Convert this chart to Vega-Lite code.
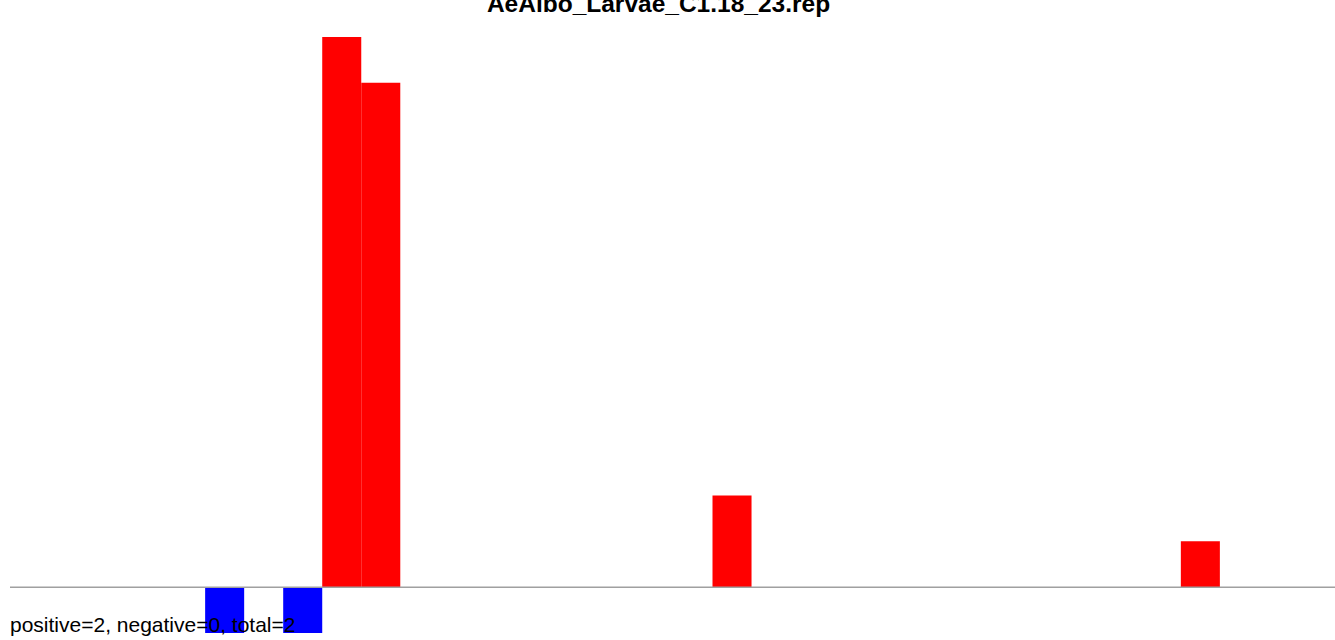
{
  "$schema": "https://vega.github.io/schema/vega-lite/v6.json",
  "width": 1325,
  "height": 596,
  "autosize": {"type": "none"},
  "padding": {"left": 10, "top": 37, "right": 0, "bottom": 7},
  "background": "white",
  "config": {"view": {"stroke": null}},
  "title": {
    "text": "AeAlbo_Larvae_C1.18_23.rep",
    "font": "Liberation Sans",
    "fontSize": 24.5,
    "fontWeight": "bold",
    "color": "black",
    "anchor": "middle",
    "frame": "group",
    "baseline": "bottom",
    "offset": 0,
    "dy": 4,
    "dx": -14
  },
  "datasets": {
    "bars": [
      {"start": 5, "end": 6, "value": -1, "sign": "neg"},
      {"start": 7, "end": 8, "value": -1, "sign": "neg"},
      {"start": 8, "end": 9, "value": 12, "sign": "pos"},
      {"start": 9, "end": 10, "value": 11, "sign": "pos"},
      {"start": 18, "end": 19, "value": 2, "sign": "pos"},
      {"start": 30, "end": 31, "value": 1, "sign": "pos"}
    ],
    "label": [
      {"pos": 0, "level": -1, "text": "positive=2, negative=0, total=2"}
    ],
    "base": [
      {"from": 0, "to": 33.95, "level": 0}
    ]
  },
  "layer": [
    {
      "data": {"name": "bars"},
      "mark": {"type": "bar", "stroke": null},
      "encoding": {
        "x": {"field": "start", "type": "quantitative", "scale": {"domain": [0, 33.95], "nice": false, "zero": false}, "axis": null},
        "x2": {"field": "end"},
        "y": {"field": "value", "type": "quantitative", "scale": {"domain": [-1, 12], "nice": false}, "axis": null},
        "y2": {"datum": 0},
        "color": {"field": "sign", "type": "nominal", "scale": {"domain": ["pos", "neg"], "range": ["#ff0000", "#0000ff"]}, "legend": null}
      }
    },
    {
      "data": {"name": "base"},
      "mark": {"type": "rule", "color": "#a0a0a0", "strokeWidth": 1.5},
      "encoding": {
        "y": {"field": "level", "type": "quantitative"},
        "x": {"field": "from", "type": "quantitative"},
        "x2": {"field": "to"}
      }
    },
    {
      "data": {"name": "label"},
      "mark": {"type": "text", "align": "left", "baseline": "alphabetic", "font": "Liberation Sans", "fontSize": 21, "color": "black", "dy": -1},
      "encoding": {
        "x": {"field": "pos", "type": "quantitative"},
        "y": {"field": "level", "type": "quantitative"},
        "text": {"field": "text"}
      }
    }
  ]
}
